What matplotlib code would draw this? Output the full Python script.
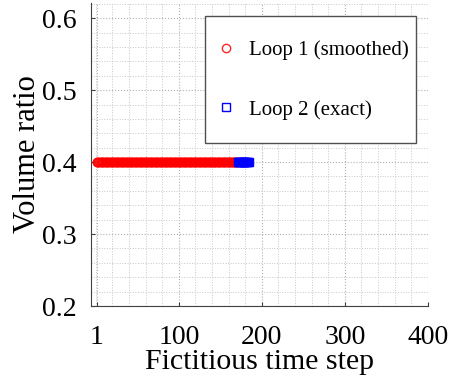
import numpy as np
import matplotlib.pyplot as plt
from matplotlib.ticker import MultipleLocator
from matplotlib.patches import Rectangle

plt.rcParams['font.family'] = ['Liberation Serif', 'DejaVu Serif']

# data
loop1_steps = list(range(1, 171))
loop1_volume = [0.4] * len(loop1_steps)
loop2_steps = list(range(171, 185))
loop2_volume = [0.4] * len(loop2_steps)

x_ticks = [1, 100, 200, 300, 400]
y_ticks = [0.2, 0.3, 0.4, 0.5, 0.6]

fig = plt.figure(figsize=(4.61, 3.83), dpi=100)
ax = fig.add_axes([0.197, 0.201, 0.731, 0.791])

ax.plot(loop1_steps, loop1_volume, 'o', color='red', mfc='none', ms=6, mew=1,
        alpha=0.85, label='Loop 1 (smoothed)')
ax.plot(loop2_steps, loop2_volume, 's', color='blue', mfc='none', ms=6, mew=1,
        label='Loop 2 (exact)')

ax.set_xlim(-6, 400)
ax.set_ylim(0.2, 0.621)
ax.set_xticks(x_ticks)
ax.set_yticks(y_ticks)
ax.xaxis.set_minor_locator(MultipleLocator(20))
ax.yaxis.set_minor_locator(MultipleLocator(0.02))
ax.grid(which='major', color='#b0b0b0', linestyle=':', linewidth=0.8)
ax.grid(which='minor', color='#c8c8c8', linestyle=':', linewidth=0.7)
ax.tick_params(which='both', direction='in', labelsize=20, length=3, color='#404040')
ax.tick_params(which='minor', length=0)
ax.tick_params(axis='x', pad=14)
ax.tick_params(axis='y', pad=10)

for s in ['top', 'right']:
    ax.spines[s].set_visible(False)
for s in ['left', 'bottom']:
    ax.spines[s].set_color('#404040')

ax.set_xlabel('Fictitious time step', fontsize=21.5, labelpad=-1)
ax.set_ylabel('Volume ratio', fontsize=22, labelpad=0)

# legend box drawn by hand, entries placed inside
ax.add_patch(Rectangle((0.338, 0.538), 0.626, 0.419, transform=ax.transAxes,
                       facecolor='white', edgecolor='#505050', linewidth=1.0,
                       zorder=5, clip_on=False))
leg = ax.legend(loc='center left', bbox_to_anchor=(0.371, 0.746), fontsize=15,
                frameon=False, borderpad=0, borderaxespad=0,
                labelspacing=1.9, handletextpad=0.58, handlelength=1.0)
leg.set_zorder(6)

fig.savefig('out.png', dpi=100)
